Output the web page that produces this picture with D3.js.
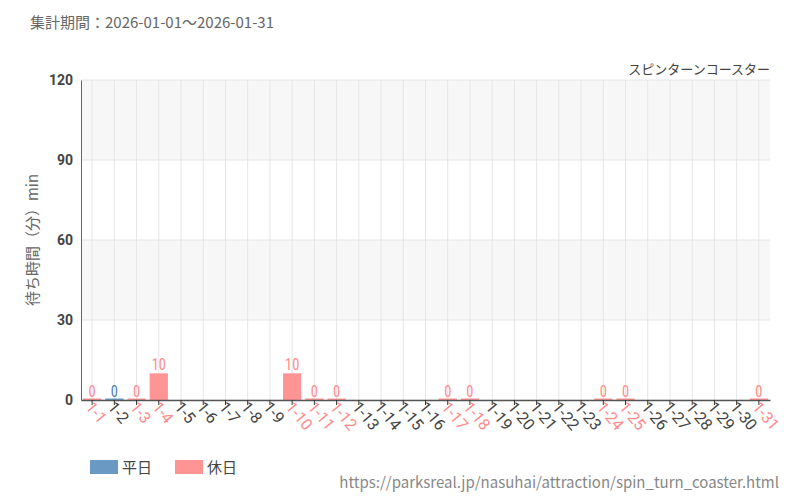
<!DOCTYPE html>
<html><head><meta charset="utf-8">
<script src="https://cdn.jsdelivr.net/npm/d3@7"></script>
<style>body{margin:0;background:#fff;font-family:"Noto Sans CJK JP","Noto Sans",sans-serif}</style>
</head><body><svg id="c" width="800" height="500"></svg>
<script>
const categories = Array.from({length:31},(_,i)=>"1-"+(i+1));
const values = [0,0,0,10,null,null,null,null,null,10,0,0,null,null,null,null,0,0,null,null,null,null,null,0,0,null,null,null,null,null,0];
const holidays = ["1-1","1-3","1-4","1-10","1-11","1-12","1-17","1-18","1-24","1-25","1-31"];
const yTicks = [0,30,60,90,120];
const blue="#6a9ac4", pink="#ff9494", blueT="#4f7fae", pinkT="#ff8a8a";
const svg=d3.select("#c");
const m={l:81,r:770,t:80,b:400};
const x=d3.scaleBand().domain(categories).range([m.l,m.r]).paddingInner(0.18).paddingOuter(0.09);
const y=d3.scaleLinear().domain([0,120]).range([m.b,m.t]);
[[90,120,"#f7f7f7"],[30,60,"#f7f7f7"]].forEach(b=>svg.append("rect").attr("x",m.l).attr("width",m.r-m.l).attr("y",y(b[1])).attr("height",y(b[0])-y(b[1])).attr("fill",b[2]));
yTicks.forEach(t=>svg.append("line").attr("x1",m.l).attr("x2",m.r).attr("y1",y(t)).attr("y2",y(t)).attr("stroke","#e6e6e6"));
categories.forEach(c=>svg.append("line").attr("x1",x(c)+x.bandwidth()/2).attr("x2",x(c)+x.bandwidth()/2).attr("y1",m.t).attr("y2",m.b).attr("stroke","#e6e6e6"));
categories.forEach((c,i)=>{const v=values[i]; if(v==null) return;
 const hol=holidays.includes(c);
 const h=Math.max(1.5,y(0)-y(v));
 svg.append("rect").attr("x",x(c)).attr("width",x.bandwidth()).attr("y",y(0)-h).attr("height",h).attr("fill",hol?pink:blue);
 svg.append("text").attr("x",x(c)+x.bandwidth()/2).attr("y",y(v)-3).attr("text-anchor","middle").attr("font-size",17).attr("font-family","Roboto Condensed, Roboto, sans-serif").attr("fill",hol?pinkT:blueT).attr("transform",`translate(${x(c)+x.bandwidth()/2},0) scale(0.85,1) translate(${-(x(c)+x.bandwidth()/2)},0)`).text(v);
});
const ya=svg.append("g").attr("transform",`translate(${m.l},0)`).call(d3.axisLeft(y).tickValues(yTicks).tickSize(0).tickPadding(8));
ya.select(".domain").attr("stroke","#666");
ya.selectAll("text").attr("font-size",14).attr("font-weight","bold").attr("fill","#444").attr("font-family","Roboto, sans-serif");
const xa=svg.append("g").attr("transform",`translate(0,${m.b})`).call(d3.axisBottom(x).tickSize(5).tickSizeOuter(0));
xa.select(".domain").attr("stroke","#555").attr("stroke-width",1.5);
xa.selectAll("line").attr("stroke","#333");
xa.selectAll("text").attr("font-size",16).attr("font-family","Roboto, sans-serif")
 .attr("fill",d=>holidays.includes(d)?pinkT:"#444")
 .attr("text-anchor","start").attr("transform","rotate(50)").attr("dx","1").attr("dy","0.15em");
svg.append("text").attr("transform",`translate(38,240) rotate(-90)`).attr("text-anchor","middle").attr("font-size",15).attr("fill","#666").text("待ち時間（分）min");
svg.append("text").attr("x",30).attr("y",28).attr("font-size",15).attr("fill","#666").text("集計期間：2026-01-01～2026-01-31");
svg.append("text").attr("x",770).attr("y",74).attr("text-anchor","end").attr("font-size",13).attr("fill","#444").text("スピンターンコースター");
svg.append("text").attr("x",779).attr("y",488).attr("text-anchor","end").attr("font-size",15).attr("fill","#888").text("https://parksreal.jp/nasuhai/attraction/spin_turn_coaster.html");
[[90,blue,"平日"],[175,pink,"休日"]].forEach(l=>{svg.append("rect").attr("x",l[0]).attr("y",460).attr("width",28).attr("height",14).attr("fill",l[1]);
 svg.append("text").attr("x",l[0]+32).attr("y",473).attr("font-size",15).attr("fill","#444").text(l[2]);});
</script></body></html>
